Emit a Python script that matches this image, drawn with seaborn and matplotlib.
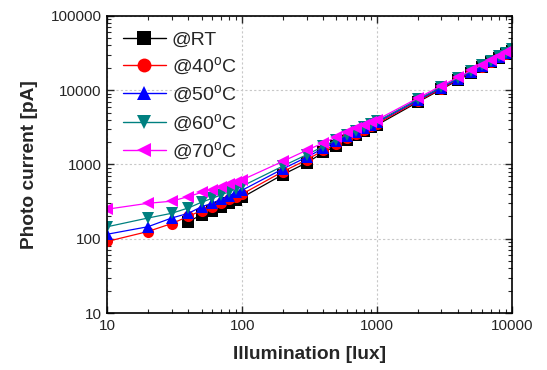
import numpy as np
import pandas as pd
import matplotlib
matplotlib.use("Agg")
import matplotlib.pyplot as plt
import seaborn as sns
from matplotlib.lines import Line2D

x_all = [10, 20, 30, 40, 50, 60, 70, 80, 90, 100, 200, 300, 400, 500, 600, 700, 800, 900,
         1000, 2000, 3000, 4000, 5000, 6000, 7000, 8000, 9000, 10000]
x_rt = x_all[3:]

rt = [170, 210, 240, 270, 300, 330, 360, 730, 1050, 1450, 1800, 2150, 2500, 2850, 3150,
      3400, 6900, 10300, 13700, 17100, 20400, 23800, 27200, 30500, 33800]
c40 = [92, 125, 160, 200, 240, 270, 300, 340, 370, 400, 800, 1150, 1550, 1900, 2250, 2600,
       2950, 3250, 3550, 7100, 10500, 14000, 17400, 20800, 24200, 27600, 31000, 34400]
c50 = [115, 145, 190, 220, 270, 300, 340, 380, 420, 450, 870, 1250, 1650, 2050, 2400, 2750,
       3100, 3400, 3700, 7300, 10800, 14300, 17800, 21200, 24600, 28000, 31500, 35000]
c60 = [145, 190, 220, 260, 310, 350, 390, 430, 470, 510, 950, 1350, 1750, 2150, 2500, 2850,
       3200, 3500, 3800, 7500, 11100, 14600, 18100, 21500, 25000, 28500, 32000, 35400]
c70 = [250, 300, 320, 370, 420, 460, 500, 540, 580, 620, 1100, 1550, 1950, 2350, 2700, 3050,
       3400, 3700, 4000, 7800, 11500, 15000, 18500, 22000, 25500, 29000, 32500, 36000]

labels = ["@RT", "@40$^{\\rm o}$C", "@50$^{\\rm o}$C", "@60$^{\\rm o}$C", "@70$^{\\rm o}$C"]
colors = ["#000000", "#ff0000", "#0000ff", "#008080", "#ff00ff"]
markers = ["s", "o", "^", "v", "<"]

frames = []
for lab, xs, ys in zip(labels, [x_rt, x_all, x_all, x_all, x_all], [rt, c40, c50, c60, c70]):
    frames.append(pd.DataFrame({"x": xs, "y": ys, "series": lab}))
df = pd.concat(frames, ignore_index=True)

sns.set_style("ticks")
plt.rcParams["font.family"] = ["Liberation Sans", "DejaVu Sans"]
plt.rcParams["mathtext.fontset"] = "custom"
plt.rcParams["mathtext.rm"] = "Liberation Sans"
plt.rcParams["mathtext.it"] = "Liberation Sans:italic"
plt.rcParams["mathtext.bf"] = "Liberation Sans:bold"

fig = plt.figure(figsize=(5.47, 3.70), dpi=100)
ax = fig.add_axes([0.196, 0.154, 0.740, 0.803])

sns.lineplot(data=df, x="x", y="y", hue="series", style="series",
             hue_order=labels, style_order=labels,
             palette=dict(zip(labels, colors)),
             markers=dict(zip(labels, markers)), dashes=False,
             markersize=8, markeredgewidth=0, linewidth=0.9, ax=ax, legend=False)

ax.set_xscale("log")
ax.set_yscale("log")
ax.set_xlim(10, 10000)
ax.set_ylim(10, 100000)
ax.set_xticks([10, 100, 1000, 10000])
ax.set_xticklabels(["10", "100", "1000", "10000"])
ax.set_yticks([10, 100, 1000, 10000, 100000])
ax.set_yticklabels(["10", "100", "1000", "10000", "100000"])
ax.grid(True, which="major", color="#c8c8c8", linestyle=(0, (2, 2)), linewidth=0.8)
ax.tick_params(which="both", direction="in", top=True, right=True, labelsize=11)
ax.tick_params(which="major", length=5, width=1, pad=4)
ax.tick_params(which="minor", length=3, width=0.8)
for s in ax.spines.values():
    s.set_linewidth(1.2)
    s.set_color("black")

ax.set_xlabel("Illumination [lux]", fontsize=13.8, fontweight="bold", labelpad=10)
ax.set_ylabel("Photo current [pA]", fontsize=13.8, fontweight="bold", labelpad=9)

handles = [Line2D([0], [0], color=c, marker=m, markersize=10, markeredgewidth=0,
                  linewidth=1.0)
           for c, m in zip(colors, markers)]
ax.legend(handles, labels, loc="upper left", frameon=False, fontsize=14,
          handlelength=2.2, handletextpad=0.3, labelspacing=0.36,
          borderaxespad=0.0, bbox_to_anchor=(0.02, 0.975))

fig.savefig("out.png", dpi=100)
